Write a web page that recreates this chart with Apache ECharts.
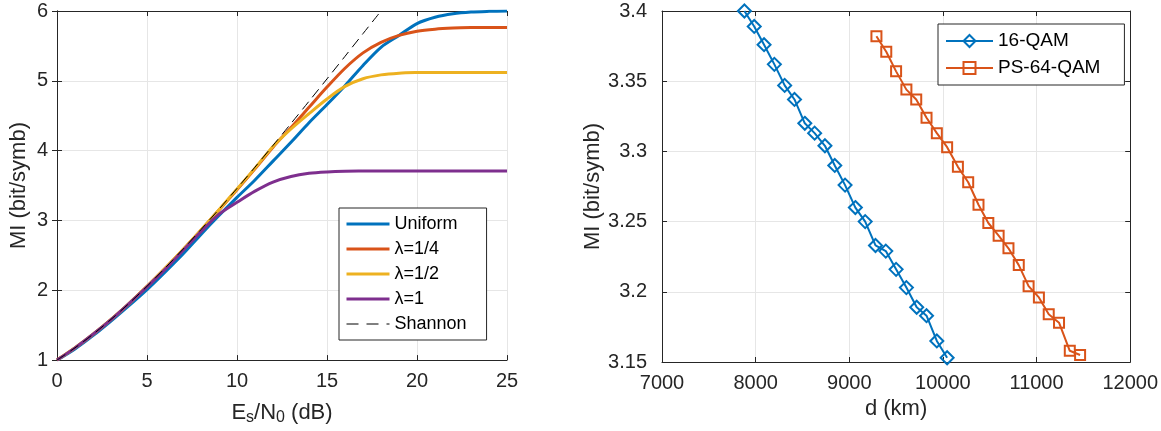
<!DOCTYPE html>
<html>
<head>
<meta charset="utf-8">
<script src="https://cdn.jsdelivr.net/npm/echarts@6/dist/echarts.min.js"></script>
<style>
  html, body { margin: 0; padding: 0; background: #fff; }
  #main { width: 1161px; height: 431px; }
</style>
</head>
<body>
<div id="main"></div>
<script>
// 左图：互信息 vs 信噪比
var snr = [0,1,2,3,4,5,6,7,8,9,10,11,12,13,14,15,16,17,18,19,20,21,22,23,24,25];
var shannon = [1.0,1.176,1.370,1.583,1.812,2.057,2.317,2.588,2.870,3.161,3.459,3.764,4.075,4.389,4.707,5.028,5.351,5.676,6.0];
var uniform = [1.0,1.16,1.35,1.56,1.78,2.01,2.26,2.52,2.80,3.07,3.33,3.58,3.85,4.12,4.40,4.66,4.93,5.22,5.48,5.65,5.82,5.91,5.96,5.985,5.995,6.0];
var lam14 = [1.0,1.175,1.368,1.58,1.81,2.055,2.31,2.58,2.86,3.15,3.44,3.74,4.05,4.33,4.62,4.91,5.18,5.40,5.55,5.65,5.71,5.74,5.755,5.762,5.765,5.765];
var lam12 = [1.0,1.176,1.37,1.582,1.81,2.055,2.315,2.585,2.865,3.155,3.45,3.75,4.06,4.31,4.53,4.74,4.92,5.03,5.085,5.11,5.118,5.12,5.12,5.12,5.12,5.12];
var lam1 = [1.0,1.175,1.37,1.58,1.81,2.05,2.30,2.57,2.84,3.09,3.26,3.42,3.55,3.63,3.675,3.695,3.705,3.708,3.71,3.71,3.71,3.71,3.71,3.71,3.71,3.71];

// 右图：互信息 vs 距离
var dQam16 = [7880,7985,8090,8200,8310,8415,8525,8630,8740,8845,8955,9065,9170,9280,9390,9500,9610,9720,9825,9935,10045];
var miQam16 = [3.400,3.389,3.376,3.362,3.347,3.337,3.320,3.313,3.304,3.290,3.276,3.260,3.250,3.233,3.229,3.216,3.203,3.189,3.183,3.165,3.153];
var dPs64 = [9290,9395,9500,9610,9715,9825,9935,10045,10160,10270,10380,10485,10595,10700,10810,10915,11025,11130,11240,11355,11465];
var miPs64 = [3.382,3.371,3.357,3.344,3.337,3.324,3.313,3.303,3.289,3.278,3.262,3.249,3.240,3.231,3.219,3.204,3.196,3.184,3.178,3.158,3.155];

var FONT = 'Liberation Sans';
var TXT = '#262626';

function pairs(xs, ys) {
	var out = [];
	for (var i = 0; i < ys.length; i++) {
		out.push([xs[i], ys[i]]);
	}
	return out;
}

var plainNum = function (v) { return String(+v.toFixed(2)); };

// 主坐标轴（带标签）
function mainX(gi, min, max, step, name) {
	return {
		type: 'value', gridIndex: gi, min: min, max: max, interval: step, position: 'bottom',
		name: name, nameLocation: 'middle', nameGap: 30,
		nameTextStyle: { color: TXT, fontFamily: FONT, fontSize: 22 },
		axisLine: { show: true, lineStyle: { color: TXT, width: 1 } },
		axisTick: { show: true, inside: true, length: 5, lineStyle: { color: TXT } },
		axisLabel: { color: TXT, fontFamily: FONT, fontSize: 20, margin: 11, formatter: plainNum },
		splitLine: { show: true, lineStyle: { color: '#e6e6e6', width: 1 } }
	};
}
function mainY(gi, min, max, step, gap, margin) {
	return {
		type: 'value', gridIndex: gi, min: min, max: max, interval: step, position: 'left',
		name: 'MI (bit/symb)', nameLocation: 'middle', nameGap: gap,
		nameTextStyle: { color: TXT, fontFamily: FONT, fontSize: 22 },
		axisLine: { show: true, lineStyle: { color: TXT, width: 1 } },
		axisTick: { show: true, inside: true, length: 5, lineStyle: { color: TXT } },
		axisLabel: { color: TXT, fontFamily: FONT, fontSize: 20, margin: margin, formatter: plainNum },
		splitLine: { show: true, lineStyle: { color: '#e6e6e6', width: 1 } }
	};
}
// 顶部/右侧的框线和刻度
function boxAxis(gi, min, max, step, pos) {
	return {
		type: 'value', gridIndex: gi, min: min, max: max, interval: step, position: pos,
		axisLine: { show: true, lineStyle: { color: TXT, width: 1 } },
		axisTick: { show: true, inside: true, length: 5, lineStyle: { color: TXT } },
		axisLabel: { show: false },
		splitLine: { show: false }
	};
}

var xTitleLeft = '{a|E}{s|s}{a|/N}{s|0}{a| (dB)}';

var option = {
	backgroundColor: '#fff',
	animation: false,
	grid: [
		{ left: 57, top: 11, width: 450, height: 351 },
		{ left: 662, top: 11, width: 469, height: 351 }
	],
	xAxis: [
		(function () {
			var a = mainX(0, 0, 25, 5, xTitleLeft);
			a.nameTextStyle.rich = {
				a: { fontFamily: FONT, fontSize: 22, color: TXT, lineHeight: 24, verticalAlign: 'top' },
				s: { fontFamily: FONT, fontSize: 16, color: TXT, lineHeight: 16, verticalAlign: 'bottom', padding: [14, 0, 0, 0] }
			};
			a.nameGap = 24;
			return a;
		})(),
		boxAxis(0, 0, 25, 5, 'top'),
		mainX(1, 7000, 12000, 1000, 'd (km)'),
		boxAxis(1, 7000, 12000, 1000, 'top')
	],
	yAxis: [
		mainY(0, 1, 6, 1, 27, 9),
		boxAxis(0, 1, 6, 1, 'right'),
		mainY(1, 3.15, 3.4, 0.05, 44, 15),
		boxAxis(1, 3.15, 3.4, 0.05, 'right')
	],
	legend: [
		{
			data: [
				{ name: 'Uniform', lineStyle: { width: 3 } },
				{ name: 'λ=1/4', lineStyle: { width: 3 } },
				{ name: 'λ=1/2', lineStyle: { width: 3 } },
				{ name: 'λ=1', lineStyle: { width: 3 } },
				{ name: 'Shannon', lineStyle: { width: 1, type: [12, 8] } }
			],
			orient: 'vertical', left: 339, top: 208,
			itemWidth: 43, itemHeight: 14, itemGap: 5,
			padding: [6, 20, 6, 6],
			backgroundColor: '#fff', borderColor: TXT, borderWidth: 1, borderRadius: 0,
			itemStyle: { opacity: 0 },
			textStyle: { color: '#000', fontFamily: FONT, fontSize: 18, lineHeight: 20 }
		},
		{
			data: ['16-QAM', 'PS-64-QAM'],
			orient: 'vertical', left: 938, top: 24,
			itemWidth: 47, itemHeight: 15, itemGap: 7,
			padding: [7, 24, 7, 7],
			backgroundColor: '#fff', borderColor: TXT, borderWidth: 1, borderRadius: 0,
			textStyle: { color: '#000', fontFamily: FONT, fontSize: 19, lineHeight: 20 }
		}
	],
	series: [
		{ name: 'Uniform', type: 'line', xAxisIndex: 0, yAxisIndex: 0, data: pairs(snr, uniform),
		  symbol: 'none', smooth: 0.3, color: '#0072BD', lineStyle: { color: '#0072BD', width: 3 } },
		{ name: 'λ=1/4', type: 'line', xAxisIndex: 0, yAxisIndex: 0, data: pairs(snr, lam14),
		  symbol: 'none', smooth: 0.3, color: '#D95319', lineStyle: { color: '#D95319', width: 3 } },
		{ name: 'λ=1/2', type: 'line', xAxisIndex: 0, yAxisIndex: 0, data: pairs(snr, lam12),
		  symbol: 'none', smooth: 0.3, color: '#EDB120', lineStyle: { color: '#EDB120', width: 3 } },
		{ name: 'λ=1', type: 'line', xAxisIndex: 0, yAxisIndex: 0, data: pairs(snr, lam1),
		  symbol: 'none', smooth: 0.3, color: '#7E2F8E', lineStyle: { color: '#7E2F8E', width: 3 } },
		{ name: 'Shannon', type: 'line', xAxisIndex: 0, yAxisIndex: 0, data: pairs(snr, shannon),
		  symbol: 'none', smooth: 0.3, color: '#000',
		  lineStyle: { color: '#000', width: 1, type: [10, 6] } },
		{ name: '16-QAM', type: 'line', xAxisIndex: 2, yAxisIndex: 2, data: pairs(dQam16, miQam16),
		  symbol: 'diamond', symbolSize: 13, color: '#0072BD',
		  itemStyle: { color: 'rgba(255,255,255,0)', borderColor: '#0072BD', borderWidth: 2 },
		  lineStyle: { color: '#0072BD', width: 2 } },
		{ name: 'PS-64-QAM', type: 'line', xAxisIndex: 2, yAxisIndex: 2, data: pairs(dPs64, miPs64),
		  symbol: 'rect', symbolSize: 10, color: '#D95319',
		  itemStyle: { color: 'rgba(255,255,255,0)', borderColor: '#D95319', borderWidth: 2 },
		  lineStyle: { color: '#D95319', width: 2 } }
	]
};

var myChart = echarts.init(document.getElementById('main'));
myChart.setOption(option);
</script>
</body>
</html>
